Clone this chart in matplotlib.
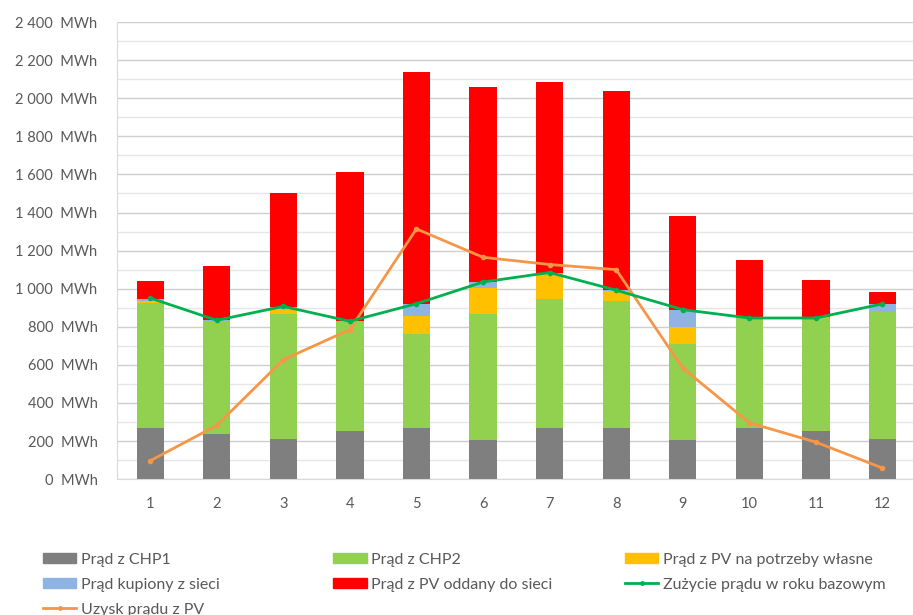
import numpy as np
import matplotlib.pyplot as plt
from matplotlib.patches import Patch
from matplotlib.lines import Line2D

plt.rcParams['font.family'] = ['Lato', 'DejaVu Sans']

months = np.arange(1, 13)

# monthly energy balance, MWh
chp1 = [268, 238, 210, 252, 268, 203, 268, 268, 203, 268, 252, 210]
chp2 = [659, 591, 659, 571, 494, 666, 680, 666, 508, 578, 594, 666]
pv_own = [8, 0, 26, 0, 95, 137, 131, 52, 86, 3, 0, 0]
grid_bought = [12, 8, 8, 8, 61, 29, 6, 8, 93, 0, 3, 44]
pv_export = [94, 283, 602, 782, 1219, 1024, 1003, 1044, 494, 300, 199, 63]
consumption = [951, 834, 907, 829, 921, 1035, 1085, 992, 890, 846, 846, 920]
pv_yield = [96, 282, 627, 785, 1314, 1165, 1127, 1100, 583, 296, 194, 58]

labels = ['Prąd z CHP1', 'Prąd z CHP2', 'Prąd z PV na potrzeby własne',
          'Prąd kupiony z sieci', 'Prąd z PV oddany do sieci',
          'Zużycie prądu w roku bazowym', 'Uzysk prądu z PV']
colors = ['#7F7F7F', '#92D050', '#FFC000', '#8EB4E3', '#FF0000']
green_line = '#00B050'
orange_line = '#F79646'
txt = '#595959'

fig = plt.figure(figsize=(9.13, 6.15), dpi=100)
ax = fig.add_axes((0.128, 0.221, 0.875, 0.743))

bottom = np.zeros(12)
for vals, col in zip([chp1, chp2, pv_own, grid_bought, pv_export], colors):
    ax.bar(months, vals, bottom=bottom, width=0.41, color=col, zorder=2)
    bottom += np.array(vals)

ax.plot(months, consumption, color=green_line, lw=2.0, marker='o', ms=3, zorder=4)
ax.plot(months, pv_yield, color=orange_line, lw=2.0, marker='o', ms=3, zorder=3)

ax.set_xlim(0.5, 12.5)
ax.set_ylim(0, 2400)
ax.set_xticks(months)
ax.set_yticks(np.arange(0, 2401, 200))
ax.set_yticks(np.arange(100, 2400, 200), minor=True)
ax.set_yticklabels([f'{v:,}'.replace(',', ' ') + '  MWh' for v in range(0, 2401, 200)])
ax.grid(axis='y', which='major', color='#CFCFCF', lw=1.0, zorder=0)
ax.grid(axis='y', which='minor', color='#E6E6E6', lw=1.0, zorder=0)
ax.tick_params(axis='both', which='both', length=0, colors=txt, labelsize=10.5)
ax.tick_params(axis='y', pad=14)
ax.tick_params(axis='x', pad=13)
for s in ['top', 'right']:
    ax.spines[s].set_visible(False)
ax.spines['left'].set_color('#D9D9D9')
ax.spines['bottom'].set_color('#D9D9D9')

handles = [Patch(color=c) for c in colors]
handles.append(Line2D([], [], color=green_line, lw=2, marker='o', ms=2.5))
handles.append(Line2D([], [], color=orange_line, lw=2, marker='o', ms=2.5))

# legend laid out as three columns below the plot
columns = [([0, 3, 6], 0.040), ([1, 4], 0.3577), ([2, 5], 0.6775)]
for idx, x in columns:
    fig.legend([handles[i] for i in idx], [labels[i] for i in idx],
               loc='upper left', bbox_to_anchor=(x, 0.112), frameon=False,
               fontsize=11.5, labelcolor=txt, handlelength=2.1, handleheight=0.55,
               handletextpad=0.3, labelspacing=0.69, borderaxespad=0)

fig.savefig('out.png', dpi=100)
